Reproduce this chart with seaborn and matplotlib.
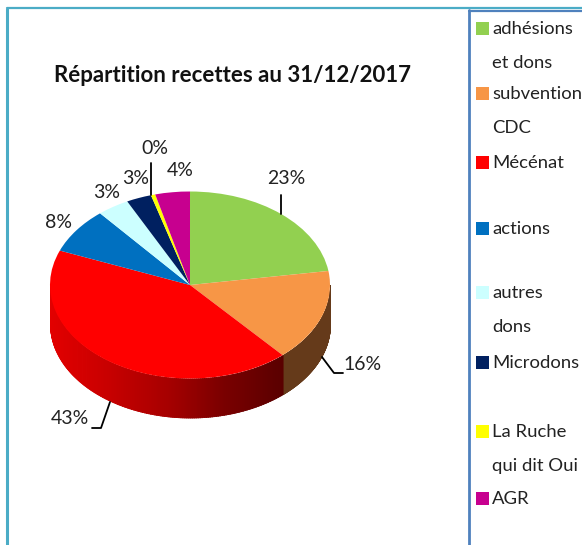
"""Répartition recettes: faux 3D pie with side legend."""
import numpy as np
import seaborn as sns
import matplotlib.pyplot as plt
from matplotlib.patches import Rectangle

categories = ['adhésions', 'subvention', 'Mécénat', 'actions', 'autres',
              'Microdons', 'La Ruche', 'AGR']
second_lines = ['et dons', 'CDC', '', '', 'dons', '', 'qui dit Oui', '']
shares = [22.6, 15.9, 42.5, 7.9, 3.7, 2.9, 0.5, 4.0]
share_labels = ['23%', '16%', '43%', '8%', '3%', '3%', '0%', '4%']
colors = ['#92d050', '#f79646', '#ff0000', '#0070c0', '#ccffff', '#002060',
          '#ffff00', '#c7008f']

W, H = 582, 545
CX, CY, RX, RY, DEPTH = 190, 285, 140, 93.5, 39

sns.set_theme(style='white')
plt.rcParams['font.family'] = ['Lato', 'DejaVu Sans']

fig = plt.figure(figsize=(W / 100, H / 100), dpi=100)
ax = fig.add_axes([0, 0, 1, 1])
ax.pie(shares, colors=colors, startangle=90, counterclock=False, radius=1,
       center=(0, 0), wedgeprops={'linewidth': 0, 'zorder': 3})
ax.set_aspect('auto')
ax.set_xlim(-CX / RX, (W - CX) / RX)
ax.set_ylim((CY - H) / RY, CY / RY)
ax.axis('off')

# side wall of the pie, strip by strip from the slice angles
edges = np.concatenate([[0], np.cumsum(shares)]) / sum(shares) * 2 * np.pi
red_ramp = sns.blend_palette(['#5a0000', '#7a0000', '#a80000', '#c80000', '#e20000'], as_cmap=True)
wall = DEPTH / RY
for i, base in [(1, '#653a1a'), (2, None)]:
    start = max(edges[i], np.pi / 2)
    stop = min(edges[i + 1], 3 * np.pi / 2)
    steps = np.linspace(start, stop, 160)
    for a, b in zip(steps[:-1], steps[1:]):
        th = np.array([a, b + 0.006])
        x = np.sin(th)
        c = base if base else red_ramp((np.sin(edges[i]) - x[0]) / (np.sin(edges[i]) + 1))
        ax.fill_between(x, np.cos(th), np.cos(th) - wall, color=c, lw=0.6, zorder=2)

# overlay in pixel coordinates for frame, labels and legend
ov = fig.add_axes([0, 0, 1, 1], facecolor='none')
ov.set_xlim(0, W)
ov.set_ylim(H, 0)
ov.axis('off')

ov.plot([7, 7], [9, H], color='#4bacc6', lw=2.2)
ov.plot([7, W], [8, 8], color='#4bacc6', lw=1.6)
ov.plot([469, 469], [10, H], color='#4f81bd', lw=2)
ov.plot([469, W], [11, 11], color='#4f81bd', lw=1.6)

ov.text(232, 75, 'Répartition recettes au 31/12/2017', fontsize=16,
        fontweight='bold', color='#111111', ha='center', va='center')

label_pos = [(286, 178), (363, 365), (70, 419), (58, 222), (107, 192),
             (136, 178), (155, 148), (180, 170)]
for txt, (x, y) in zip(share_labels, label_pos):
    ov.text(x, y, txt, fontsize=14, color='#222222', ha='center', va='center')

leaders = [([281, 281], [195, 214]),
           ([322, 334, 343], [357, 373, 373]),
           ([110, 101, 92], [402, 428, 428]),
           ([151, 151], [163, 195])]
for xs, ys in leaders:
    ov.plot(xs, ys, color='black', lw=1.3, zorder=5)

first_y = [29, 94, 163, 229, 293, 363, 432, 499]
for name, extra, col, y in zip(categories, second_lines, colors, first_y):
    ov.add_patch(Rectangle((476, y - 7), 13, 13, color=col, lw=0))
    ov.text(492, y, name, fontsize=13.3, color='#222222', va='center')
    if extra:
        ov.text(492, y + 34, extra, fontsize=13.3, color='#222222', va='center')

fig.savefig('out.png', dpi=100)
